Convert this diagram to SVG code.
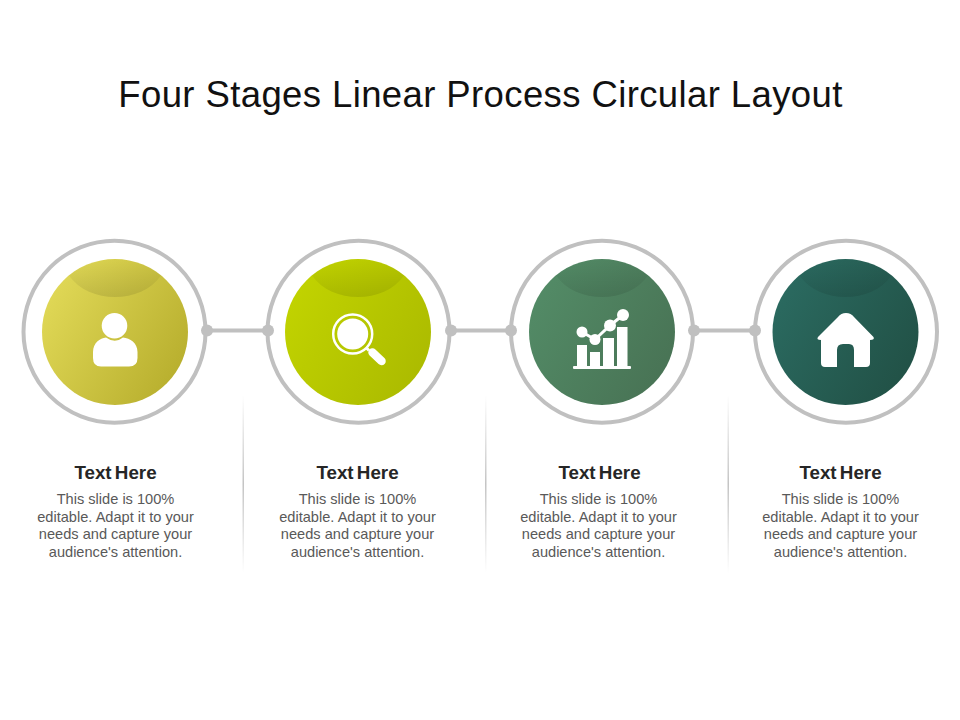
<svg xmlns="http://www.w3.org/2000/svg" width="960" height="720" viewBox="0 0 960 720">
<style>
text{font-family:"Liberation Sans",Arial,sans-serif;text-anchor:middle}
.title{font-size:36.5px;fill:#111;letter-spacing:0.39px}
.head{font-size:19px;font-weight:bold;fill:#262626;word-spacing:-2px;font-size:18.800px}
.body{font-size:14.600px;fill:#595959}
.ring{fill:none;stroke:#c0c0c0;stroke-width:4}
.ico{fill:#fff}
.conn line{stroke:#c0c0c0;stroke-width:4}
.conn circle{fill:#c0c0c0}
</style>
<defs>
<linearGradient id="g1" x1="0" y1="0.2" x2="1" y2="0.8"><stop offset="0" stop-color="#e2da58"/><stop offset="1" stop-color="#b6ad2c"/></linearGradient>
<linearGradient id="g2" x1="0" y1="0.2" x2="1" y2="0.8"><stop offset="0" stop-color="#c2d400"/><stop offset="1" stop-color="#abba00"/></linearGradient>
<linearGradient id="g3" x1="0" y1="0.2" x2="1" y2="0.8"><stop offset="0" stop-color="#538c67"/><stop offset="1" stop-color="#487254"/></linearGradient>
<linearGradient id="g4" x1="0" y1="0.2" x2="1" y2="0.8"><stop offset="0" stop-color="#2b6b61"/><stop offset="1" stop-color="#215045"/></linearGradient>
<linearGradient id="cap" x1="0" y1="0" x2="0" y2="1"><stop offset="0" stop-color="#000" stop-opacity="0"/><stop offset="1" stop-color="#000" stop-opacity="0.1"/></linearGradient>
<linearGradient id="sep" x1="0" y1="0" x2="0" y2="1"><stop offset="0" stop-color="#c4c4c4" stop-opacity="0"/><stop offset="0.5" stop-color="#c4c4c4"/><stop offset="1" stop-color="#c4c4c4" stop-opacity="0"/></linearGradient>
<path id="capshape" d="M-46-56.600A73 73 0 0 1 46-56.600C36-42 18-35 0-35S-36-42-46-56.600Z"/>
</defs>
<text class="title" x="480.500" y="107">Four Stages Linear Process Circular Layout</text>
<g id="connectors" class="conn">
<line x1="207" y1="330.500" x2="268" y2="330.500"/><circle cx="207" cy="330.500" r="6"/><circle cx="268" cy="330.500" r="6"/>
<line x1="451" y1="330.500" x2="511" y2="330.500"/><circle cx="451" cy="330.500" r="6"/><circle cx="511" cy="330.500" r="6"/>
<line x1="694" y1="330.500" x2="755" y2="330.500"/><circle cx="694" cy="330.500" r="6"/><circle cx="755" cy="330.500" r="6"/>
</g>
<g id="separators">
<rect x="242.500" y="395" width="1.500" height="178" fill="url(#sep)"/>
<rect x="485" y="395" width="1.500" height="178" fill="url(#sep)"/>
<rect x="727.500" y="395" width="1.500" height="178" fill="url(#sep)"/>
</g>
<g id="node1">
<circle class="ring" cx="114.500" cy="331.700" r="91"/>
<circle cx="115" cy="332" r="73" fill="url(#g1)"/>
<use href="#capshape" x="115" y="332" fill="url(#cap)"/>
<circle class="ico" cx="114.500" cy="325.700" r="12.800"/>
<path class="ico" d="M93 358V352C93 343 100 338 106 337.500Q115 344 123 337.500C130 338 137.500 343 137.500 352V358Q137.500 366.500 129 366.500H101Q93 366.500 93 358Z"/>
<text class="head" x="115.500" y="479">Text Here</text>
<text class="body" x="115.500" y="504">This slide is 100%</text><text class="body" x="115.500" y="522">editable. Adapt it to your</text><text class="body" x="115.500" y="539">needs and capture your</text><text class="body" x="115.500" y="557">audience's attention.</text>
</g>
<g id="node2">
<circle class="ring" cx="358.500" cy="331.700" r="91"/>
<circle cx="358" cy="332" r="73" fill="url(#g2)"/>
<use href="#capshape" x="358" y="332" fill="url(#cap)"/>
<circle cx="352.700" cy="334" r="19.500" fill="none" stroke="#fff" stroke-width="2.500"/>
<circle class="ico" cx="352.700" cy="334" r="15.500"/>
<path d="M366 347.500L369 350.500" stroke="#fff" stroke-width="3" fill="none"/>
<path d="M372.500 352.500L381.500 361" stroke="#fff" stroke-width="8.500" stroke-linecap="round" fill="none"/>
<text class="head" x="357.500" y="479">Text Here</text>
<text class="body" x="357.500" y="504">This slide is 100%</text><text class="body" x="357.500" y="522">editable. Adapt it to your</text><text class="body" x="357.500" y="539">needs and capture your</text><text class="body" x="357.500" y="557">audience's attention.</text>
</g>
<g id="node3">
<circle class="ring" cx="602" cy="331.700" r="91"/>
<circle cx="602" cy="332" r="73" fill="url(#g3)"/>
<use href="#capshape" x="602" y="332" fill="url(#cap)"/>
<path d="M582 332L595 339.500L610 325.500L623 315" fill="none" stroke="#fff" stroke-width="3"/>
<circle class="ico" cx="582" cy="332" r="5.500"/><circle class="ico" cx="595" cy="339.500" r="5.500"/><circle class="ico" cx="610" cy="325.500" r="6"/><circle class="ico" cx="623" cy="315" r="6"/>
<rect class="ico" x="577" y="345" width="10" height="21"/><rect class="ico" x="590" y="352" width="10" height="14"/><rect class="ico" x="603" y="338" width="11" height="28"/><rect class="ico" x="617" y="327" width="10.500" height="39"/>
<rect class="ico" x="573" y="366" width="58" height="3" rx="1"/>
<text class="head" x="599.500" y="479">Text Here</text>
<text class="body" x="598.500" y="504">This slide is 100%</text><text class="body" x="598.500" y="522">editable. Adapt it to your</text><text class="body" x="598.500" y="539">needs and capture your</text><text class="body" x="598.500" y="557">audience's attention.</text>
</g>
<g id="node4">
<circle class="ring" cx="846" cy="331.700" r="91"/>
<circle cx="845.500" cy="332" r="73" fill="url(#g4)"/>
<use href="#capshape" x="845.500" y="332" fill="url(#cap)"/>
<path class="ico" d="M846 313Q841 313 838 317L818 337Q816 340 821 340V363Q821 367 825 367H837V350Q837 344 843 344H849Q854 344 854 350V367H866Q870 367 870 363V340Q875 340 873.500 337L854 317Q851 313 846 313Z"/>
<text class="head" x="840.500" y="479">Text Here</text>
<text class="body" x="840.500" y="504">This slide is 100%</text><text class="body" x="840.500" y="522">editable. Adapt it to your</text><text class="body" x="840.500" y="539">needs and capture your</text><text class="body" x="840.500" y="557">audience's attention.</text>
</g>
</svg>
